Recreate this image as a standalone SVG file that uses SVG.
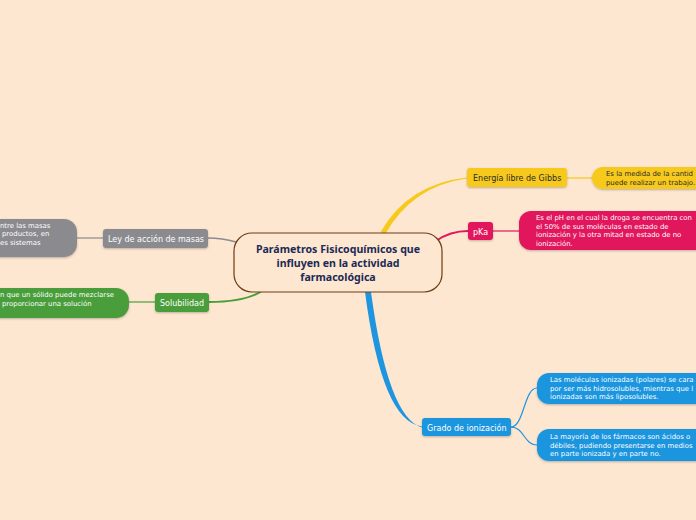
<svg xmlns="http://www.w3.org/2000/svg" width="696" height="520" viewBox="0 0 696 520">
<style>
.lbl{font-family:"DejaVu Sans",Verdana,sans-serif;font-size:8px;fill:#fff}
.det{font-family:"DejaVu Sans",Verdana,sans-serif;font-size:6.9px;fill:#fff}
.dark{fill:#2a2a2a}
.ctr{font-family:"Noto Sans","Open Sans",sans-serif;font-weight:bold;font-size:10.6px;fill:#1b2a55;text-anchor:middle}
.sh{filter:url(#sh)}
</style>
<defs>
<filter id="sh" x="-10%" y="-20%" width="120%" height="150%">
<feDropShadow dx="0" dy="1" stdDeviation="0.8" flood-color="#000" flood-opacity="0.25"/>
</filter>
</defs>
<rect width="696" height="520" fill="#fde7d1"/>
<g id="connectors" fill="none">
<path d="M380.8,231.8 Q407.8,184 467,177.5 L467,178.5 Q412.2,186 385.2,234.2 Z" fill="#f6c91a"/>
<path d="M567,178 L592,178" stroke="#f6c91a" stroke-width="1.2"/>
<path d="M436,241 Q450,231 468,231" stroke="#e2175d" stroke-width="2"/>
<path d="M493,231 L519,231" stroke="#e2175d" stroke-width="1.2"/>
<path d="M236,242 Q222,238 208,238" stroke="#8b8b8f" stroke-width="1.5"/>
<path d="M77,238 L103,238" stroke="#8b8b8f" stroke-width="1.2"/>
<path d="M262,291 Q245,302 209,302" stroke="#4a9e3a" stroke-width="2"/>
<path d="M129,302 L155,302" stroke="#4a9e3a" stroke-width="1.2"/>
<path d="M365,292 Q382,422 422,426.5 L422,427.5 Q388,418 371,292 Z" fill="#1f95df"/>
<path d="M511,427 C524,427 524,388 537,388" stroke="#1f95df" stroke-width="1.2"/>
<path d="M511,427 C524,427 524,445 537,445" stroke="#1f95df" stroke-width="1.2"/>
</g>
<g id="central">
<rect x="234" y="233" width="208" height="59" rx="18" fill="#fde7d1" stroke="#6e3d12" stroke-width="1.2"/>
<text class="ctr" x="338" y="253">Parámetros Fisicoquímicos que</text>
<text class="ctr" x="338" y="267">influyen en la actividad</text>
<text class="ctr" x="338" y="281">farmacológica</text>
</g>
<g id="gibbs">
<rect class="sh" x="467" y="168" width="100" height="19" rx="3" fill="#f6c91a"/>
<text class="lbl dark" x="473" y="181">Energía libre de Gibbs</text>
</g>
<g id="gibbs-detail">
<rect class="sh" x="592" y="167" width="130" height="22" rx="11" fill="#f6c91a"/>
<text class="det dark" x="606" y="176">Es la medida de la cantid</text>
<text class="det dark" x="606" y="185">puede realizar un trabajo.</text>
</g>
<g id="pka">
<rect class="sh" x="468" y="222" width="25" height="18" rx="3" fill="#e2175d"/>
<text class="lbl" x="473" y="234.5">pKa</text>
</g>
<g id="pka-detail">
<rect class="sh" x="519" y="211" width="200" height="39" rx="12" fill="#e2175d"/>
<text class="det" x="536" y="220">Es el pH en el cual la droga se encuentra con</text>
<text class="det" x="536" y="228.5">el 50% de sus moléculas en estado de</text>
<text class="det" x="536" y="237">ionización y la otra mitad en estado de no</text>
<text class="det" x="536" y="245.5">ionización.</text>
</g>
<g id="ley">
<rect class="sh" x="103" y="229" width="105" height="19" rx="3" fill="#8b8b8f"/>
<text class="lbl" x="108" y="242">Ley de acción de masas</text>
</g>
<g id="ley-detail">
<rect class="sh" x="-40" y="219" width="117" height="38" rx="13" fill="#8b8b8f"/>
<text class="det" x="0" y="227.5">ntre las masas</text>
<text class="det" x="2" y="236">productos, en</text>
<text class="det" x="0" y="244.5">es sistemas</text>
</g>
<g id="solubilidad">
<rect class="sh" x="155" y="293" width="54" height="19" rx="3" fill="#4a9e3a"/>
<text class="lbl" x="160" y="306">Solubilidad</text>
</g>
<g id="solubilidad-detail">
<rect class="sh" x="-40" y="288" width="169" height="30" rx="13" fill="#4a9e3a"/>
<text class="det" x="0" y="297">n que un sólido puede mezclarse</text>
<text class="det" x="2" y="305.5">proporcionar una solución</text>
</g>
<g id="grado">
<rect class="sh" x="422" y="418" width="89" height="18" rx="3" fill="#1f95df"/>
<text class="lbl" x="427" y="430.5">Grado de ionización</text>
</g>
<g id="grado-detail-1">
<rect class="sh" x="537" y="373" width="200" height="31" rx="12" fill="#1f95df"/>
<text class="det" x="550" y="382">Las moléculas ionizadas (polares) se cara</text>
<text class="det" x="550" y="390.5">por ser más hidrosolubles, mientras que l</text>
<text class="det" x="550" y="399">ionizadas son más liposolubles.</text>
</g>
<g id="grado-detail-2">
<rect class="sh" x="537" y="429" width="200" height="32" rx="12" fill="#1f95df"/>
<text class="det" x="550" y="439">La mayoría de los fármacos son ácidos o</text>
<text class="det" x="550" y="447.5">débiles, pudiendo presentarse en medios</text>
<text class="det" x="550" y="456">en parte ionizada y en parte no.</text>
</g>
</svg>
